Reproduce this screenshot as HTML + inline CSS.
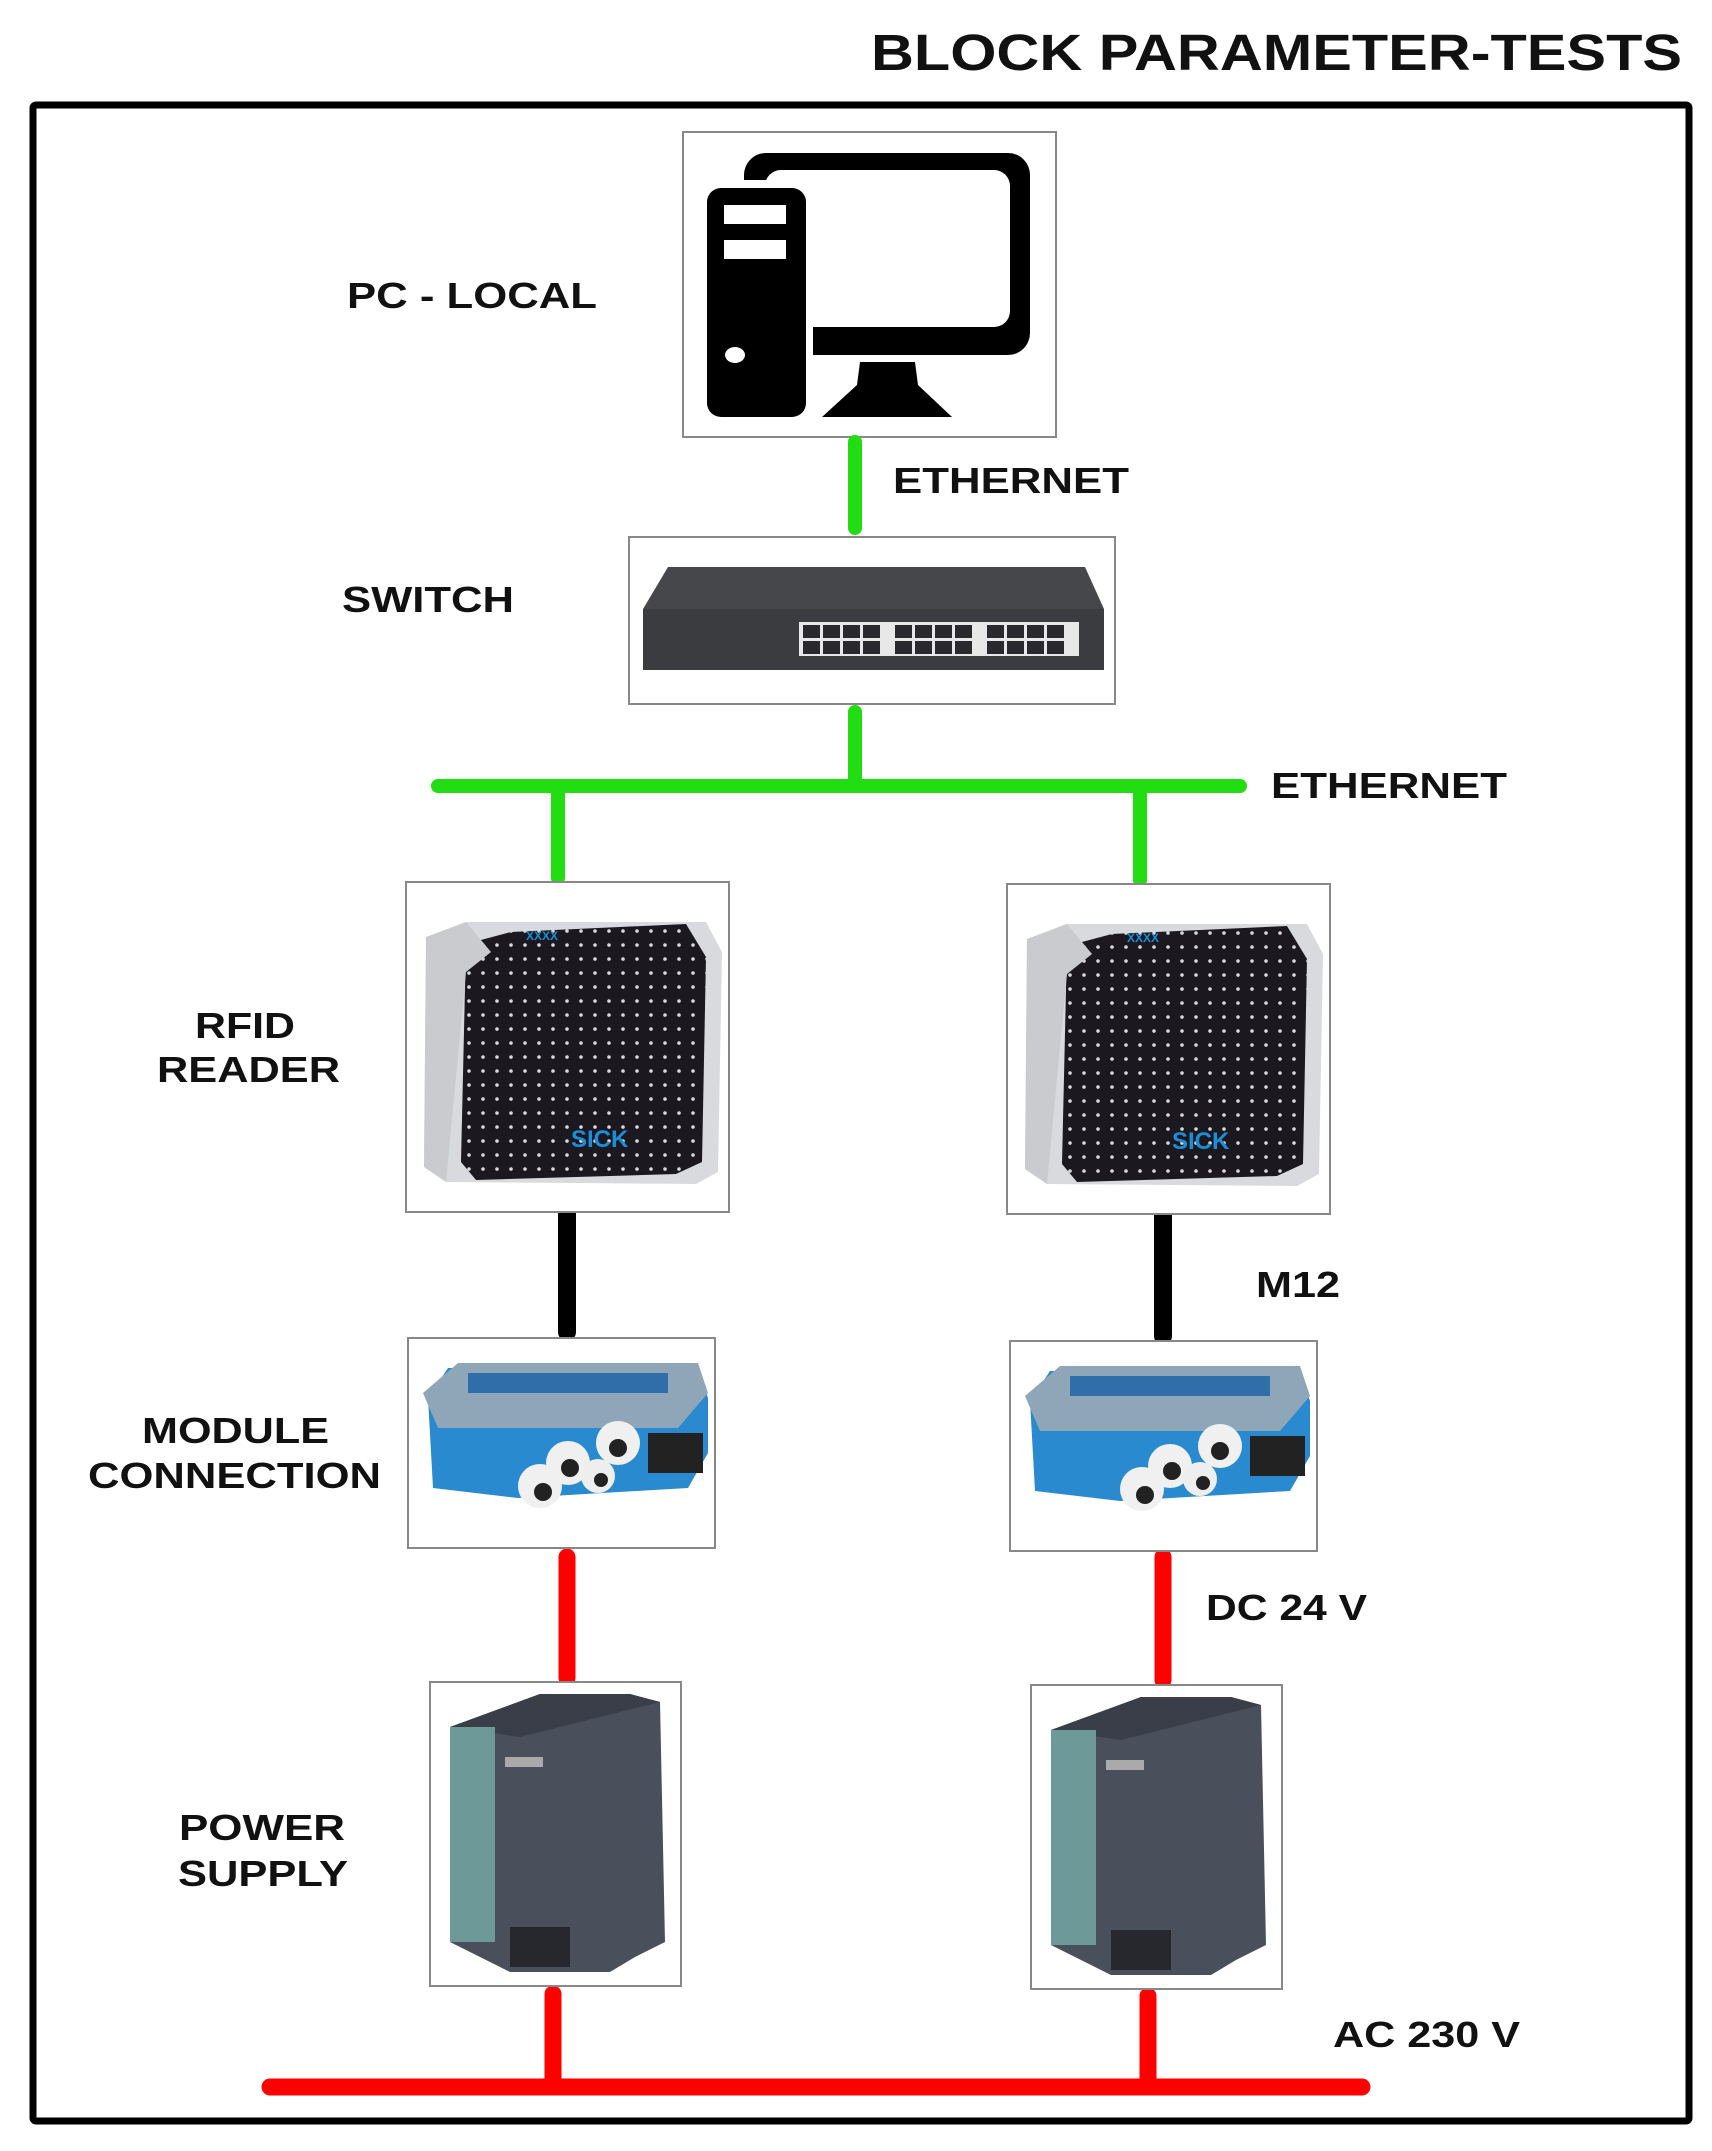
<!DOCTYPE html>
<html><head><meta charset="utf-8"><style>
html,body{margin:0;padding:0;background:#fff;}
svg{display:block;}
text{font-family:"Liberation Sans",Arial,sans-serif;font-weight:bold;fill:#111;}
</style></head><body>
<svg width="1712" height="2151" viewBox="0 0 1712 2151" xmlns="http://www.w3.org/2000/svg">
<defs>
<pattern id="dots" width="14" height="14" patternUnits="userSpaceOnUse">
<rect width="14" height="14" fill="#1c1820"/><circle cx="7" cy="7" r="1.8" fill="#d8d8d8"/>
</pattern>
<g id="rfid">
<rect x="0" y="0" width="323" height="330" fill="#fff" stroke="#888" stroke-width="2"/>
<path d="M20 55 L60 40 L300 40 L316 70 L312 290 L290 302 L40 300 L18 285 Z" fill="#d9dadd"/>
<path d="M60 62 L105 50 L280 42 L300 75 L296 280 L270 292 L70 298 L55 280 Z" fill="url(#dots)"/>
<path d="M20 55 L60 40 L85 70 L60 90 L40 300 L18 285 Z" fill="#c9cbcf"/>
<text x="165" y="265" style="fill:#1a8fd8;font-size:24px">SICK</text>
<text x="120" y="58" style="fill:#1a8fd8;font-size:12px">XXXX</text>
</g>
<g id="module">
<rect x="0" y="0" width="307" height="210" fill="#fff" stroke="#888" stroke-width="2"/>
<path d="M20 60 L40 30 L290 30 L300 60 L300 115 L280 150 L110 160 L25 150 Z" fill="#2a8ad0"/>
<path d="M15 55 L50 25 L290 25 L300 55 L270 90 L30 90 Z" fill="#8fa6b8"/>
<rect x="60" y="35" width="200" height="20" fill="#2f6ea8"/>
<rect x="240" y="95" width="55" height="40" fill="#222"/>
<circle cx="210" cy="105" r="22" fill="#f0f0f0"/><circle cx="210" cy="110" r="9" fill="#222"/>
<circle cx="160" cy="125" r="22" fill="#f0f0f0"/><circle cx="162" cy="130" r="9" fill="#222"/>
<circle cx="190" cy="138" r="17" fill="#eee"/><circle cx="193" cy="142" r="7" fill="#222"/>
<circle cx="132" cy="148" r="22" fill="#f0f0f0"/><circle cx="135" cy="154" r="9" fill="#222"/>
</g>
<g id="ps">
<rect x="0" y="0" width="251" height="304" fill="#fff" stroke="#888" stroke-width="2"/>
<path d="M20 45 L110 12 L200 12 L230 20 L235 260 L205 275 L180 290 L80 290 L20 260 Z" fill="#4a4f5c"/>
<path d="M20 45 L110 12 L200 12 L230 20 L90 55 Z" fill="#3a3e48"/>
<rect x="20" y="45" width="45" height="215" fill="#6d9a98"/>
<rect x="75" y="75" width="38" height="10" fill="#aaa"/>
<rect x="80" y="245" width="60" height="40" fill="#26282e"/>
</g>
</defs>

<text x="871" y="70" textLength="811" lengthAdjust="spacingAndGlyphs" style="font-size:51px">BLOCK PARAMETER-TESTS</text>
<rect x="33" y="105" width="1656" height="2016" fill="none" stroke="#000" stroke-width="7" rx="3"/>

<!-- PC -->
<rect x="683" y="132" width="373" height="305" fill="#fff" stroke="#888" stroke-width="2"/>
<rect x="744" y="153" width="286" height="202" rx="22" fill="#000"/>
<rect x="765" y="170" width="245" height="157" rx="16" fill="#fff"/>
<rect x="700" y="180" width="113" height="244" fill="#fff"/>
<rect x="707" y="188" width="99" height="229" rx="14" fill="#000"/>
<rect x="724" y="205" width="62" height="19" fill="#fff"/>
<rect x="724" y="240" width="62" height="19" fill="#fff"/>
<ellipse cx="735" cy="355" rx="10" ry="8" fill="#fff"/>
<path d="M860 362 L915 362 L918 385 L952 417 L822 417 L857 385 Z" fill="#000"/>

<!-- Switch -->
<rect x="629" y="537" width="486" height="167" fill="#fff" stroke="#888" stroke-width="2"/>
<path d="M643 609 L668 567 L1085 567 L1104 609 Z" fill="#45474b"/>
<rect x="643" y="609" width="461" height="61" fill="#3a3c40"/>
<rect x="799" y="622" width="280" height="34" fill="#e8e8e8"/>
<g fill="#2a2a2e">
<rect x="803" y="625" width="17" height="13"/><rect x="823" y="625" width="17" height="13"/><rect x="843" y="625" width="17" height="13"/><rect x="863" y="625" width="17" height="13"/><rect x="895" y="625" width="17" height="13"/><rect x="915" y="625" width="17" height="13"/><rect x="935" y="625" width="17" height="13"/><rect x="955" y="625" width="17" height="13"/><rect x="987" y="625" width="17" height="13"/><rect x="1007" y="625" width="17" height="13"/><rect x="1027" y="625" width="17" height="13"/><rect x="1047" y="625" width="17" height="13"/>
<rect x="803" y="641" width="17" height="13"/><rect x="823" y="641" width="17" height="13"/><rect x="843" y="641" width="17" height="13"/><rect x="863" y="641" width="17" height="13"/><rect x="895" y="641" width="17" height="13"/><rect x="915" y="641" width="17" height="13"/><rect x="935" y="641" width="17" height="13"/><rect x="955" y="641" width="17" height="13"/><rect x="987" y="641" width="17" height="13"/><rect x="1007" y="641" width="17" height="13"/><rect x="1027" y="641" width="17" height="13"/><rect x="1047" y="641" width="17" height="13"/>
</g>

<!-- green lines -->
<g stroke="#22dd11" stroke-width="14" stroke-linecap="round" fill="none">
<line x1="855" y1="442" x2="855" y2="528"/>
<line x1="855" y1="712" x2="855" y2="782"/>
<line x1="438" y1="786" x2="1240" y2="786"/>
<line x1="558" y1="786" x2="558" y2="878"/>
<line x1="1140" y1="786" x2="1140" y2="880"/>
</g>
<!-- black lines -->
<g stroke="#000" stroke-width="18" stroke-linecap="round">
<line x1="567" y1="1212" x2="567" y2="1332"/>
<line x1="1163" y1="1216" x2="1163" y2="1336"/>
</g>
<!-- red lines -->
<g stroke="#ff0000" stroke-width="17" stroke-linecap="round">
<line x1="567" y1="1557" x2="567" y2="1678"/>
<line x1="1163" y1="1557" x2="1163" y2="1680"/>
<line x1="553" y1="1994" x2="553" y2="2085"/>
<line x1="1148" y1="1996" x2="1148" y2="2085"/>
<line x1="270" y1="2087" x2="1362" y2="2087"/>
</g>

<use href="#rfid" x="406" y="882"/>
<use href="#rfid" x="1007" y="884"/>
<use href="#module" x="408" y="1338"/>
<use href="#module" x="1010" y="1341"/>
<use href="#ps" x="430" y="1682"/>
<use href="#ps" x="1031" y="1685"/>

<g style="font-size:36px">
<text x="347" y="308" textLength="250" lengthAdjust="spacingAndGlyphs">PC - LOCAL</text>
<text x="893" y="493" textLength="236" lengthAdjust="spacingAndGlyphs">ETHERNET</text>
<text x="342" y="612" textLength="172" lengthAdjust="spacingAndGlyphs">SWITCH</text>
<text x="1271" y="798" textLength="236" lengthAdjust="spacingAndGlyphs">ETHERNET</text>
<text x="195" y="1038" textLength="100" lengthAdjust="spacingAndGlyphs">RFID</text>
<text x="157" y="1082" textLength="183" lengthAdjust="spacingAndGlyphs">READER</text>
<text x="1256" y="1297" textLength="84" lengthAdjust="spacingAndGlyphs">M12</text>
<text x="142" y="1443" textLength="187" lengthAdjust="spacingAndGlyphs">MODULE</text>
<text x="88" y="1488" textLength="293" lengthAdjust="spacingAndGlyphs">CONNECTION</text>
<text x="1206" y="1620" textLength="161" lengthAdjust="spacingAndGlyphs">DC 24 V</text>
<text x="179" y="1840" textLength="166" lengthAdjust="spacingAndGlyphs">POWER</text>
<text x="178" y="1886" textLength="170" lengthAdjust="spacingAndGlyphs">SUPPLY</text>
<text x="1333" y="2047" textLength="187" lengthAdjust="spacingAndGlyphs">AC 230 V</text>
</g>
</svg>
</body></html>
